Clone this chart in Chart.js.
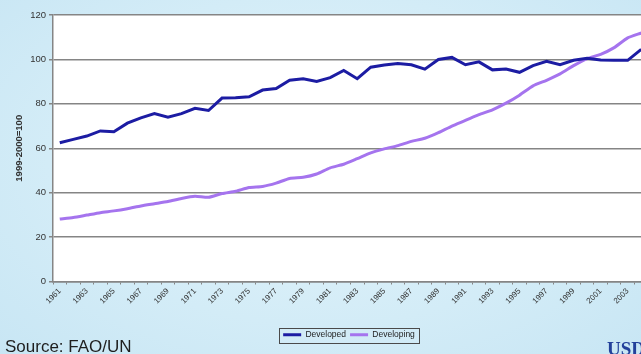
<!DOCTYPE html>
<html>
<head>
<meta charset="utf-8">
<script src="https://cdn.jsdelivr.net/npm/chart.js@4/dist/chart.umd.min.js"></script>
<style>
  html, body { margin: 0; padding: 0; }
  body {
    width: 641px; height: 354px; overflow: hidden; position: relative;
    background: radial-gradient(ellipse at 50% 45%, #e4f4fb 0%, #d3ecf7 60%, #c8e6f4 100%);
    font-family: "Liberation Sans", Arial, sans-serif;
  }
  /* the source image is cropped on the right, so the chart runs a little past the edge */
  #wrap { position: absolute; left: 0; top: 0; width: 650px; height: 354px; }
  #source { position: absolute; left: 5px; top: 337px; font-size: 17px; color: #1e1e1e; white-space: nowrap; }
  #usda { position: absolute; left: 607px; top: 338px; font-size: 19px; font-weight: bold; color: #23409a;
    font-family: "Liberation Serif", "DejaVu Serif", serif; white-space: nowrap; }
</style>
</head>
<body>
<div id="wrap"><canvas id="yieldChart"></canvas></div>
<div id="source">Source: FAO/UN</div>
<div id="usda">USDA</div>
<script>
// index 1999-2000 = 100
const years = [
  1961, 1962, 1963, 1964, 1965, 1966, 1967, 1968, 1969, 1970,
  1971, 1972, 1973, 1974, 1975, 1976, 1977, 1978, 1979, 1980,
  1981, 1982, 1983, 1984, 1985, 1986, 1987, 1988, 1989, 1990,
  1991, 1992, 1993, 1994, 1995, 1996, 1997, 1998, 1999, 2000,
  2001, 2002, 2003, 2004
]
const developed = [
  62.5, 64, 65.5, 67.8, 67.4, 71.3, 73.7, 75.6, 74, 75.6,
  78, 77, 82.6, 82.7, 83.2, 86.2, 86.9, 90.6, 91.3, 90.1,
  91.8, 95, 91.3, 96.5, 97.5, 98.2, 97.6, 95.6, 100, 100.9,
  97.6, 98.9, 95.3, 95.7, 94.2, 97.2, 99.1, 97.6, 99.6, 100.5,
  99.7, 99.6, 99.6, 104.5
]
const developing = [
  28.1, 28.8, 29.9, 31, 31.8, 32.8, 34, 35, 36, 37.4,
  38.4, 37.9, 39.6, 40.6, 42.3, 42.8, 44.3, 46.4, 46.9, 48.4,
  51.2, 52.8, 55.3, 57.9, 59.7, 61.2, 63.1, 64.5, 67, 70,
  72.5, 75.1, 77.3, 80.3, 83.9, 88.1, 90.6, 93.5, 97.2, 100.4,
  102.3, 105.3, 109.7, 111.9
]
const yTicks = [0, 20, 40, 60, 80, 100, 120]
const yTitle = '1999-2000=100'

const gridGray = '#858585'
const fontFamily = '"Liberation Sans", Arial, sans-serif'

// white plot area + legend frame + legend nudged right like the original
const plotFrame = {
  id: 'plotFrame',
  beforeDraw: chart => {
    const {ctx, chartArea} = chart
    ctx.save()
    ctx.fillStyle = '#ffffff'
    ctx.fillRect(chartArea.left, chartArea.top, chartArea.right - chartArea.left, chartArea.bottom - chartArea.top)
    ctx.restore()
  },
  afterLayout: chart => {
    chart.legend.left += 24
    chart.legend.right += 24
  },
  afterDraw: chart => {
    const boxes = chart.legend.legendHitBoxes
    if (!boxes || !boxes.length) return
    const left = Math.min(...boxes.map(b => b.left)) - 4
    const right = Math.max(...boxes.map(b => b.left + b.width)) + 4
    const top = Math.min(...boxes.map(b => b.top)) - 3
    const bottom = Math.max(...boxes.map(b => b.top + b.height)) + 3
    const ctx = chart.ctx
    ctx.save()
    ctx.strokeStyle = '#4a4a4a'
    ctx.lineWidth = 1
    ctx.strokeRect(Math.round(left) + 0.5, Math.round(top) + 0.5, Math.round(right - left), Math.round(bottom - top))
    ctx.restore()
  }
}

const config = {
  type: 'line',
  data: {
    labels: years,
    datasets: [
      {
        label: 'Developed',
        data: developed,
        borderColor: '#1c1ca3',
        backgroundColor: '#1c1ca3',
        borderWidth: 3,
        pointRadius: 0,
        tension: 0,
        fill: false,
      },
      {
        label: 'Developing',
        data: developing,
        borderColor: '#a574ee',
        backgroundColor: '#a574ee',
        borderWidth: 3,
        pointRadius: 0,
        tension: 0.2,
        fill: false,
      }
    ]
  },
  options: {
    responsive: true,
    maintainAspectRatio: false,
    animation: false,
    layout: { padding: { top: 15, left: 0, right: 0, bottom: 5 } },
    plugins: {
      legend: {
        position: 'bottom',
        labels: {
          usePointStyle: true,
          pointStyle: 'line',
          pointStyleWidth: 18,
          boxHeight: 8,
          padding: 4,
          color: '#222',
          font: { family: fontFamily, size: 8.5 },
        }
      },
      tooltip: { enabled: false },
    },
    scales: {
      x: {
        type: 'category',
        offset: true,
        afterFit: scale => { scale.height = 45 },
        border: { display: true, color: gridGray, width: 1.5 },
        grid: { offset: true, drawOnChartArea: false, drawTicks: true, tickLength: 3, color: gridGray },
        ticks: {
          autoSkip: false,
          minRotation: 45,
          maxRotation: 45,
          padding: 2,
          color: '#333',
          font: { family: fontFamily, size: 8 },
          callback: function (value) {
            const y = this.getLabelForValue(value)
            return (y - 1961) % 2 === 0 ? String(y) : ''
          }
        }
      },
      y: {
        min: 0,
        max: 120,
        afterFit: scale => { scale.width = 53 },
        afterBuildTicks: scale => { scale.ticks = yTicks.map(v => ({ value: v })) },
        border: { display: true, color: gridGray, width: 1.5 },
        grid: { color: gridGray, lineWidth: 1.5, tickLength: 4 },
        ticks: {
          padding: 3,
          color: '#333',
          font: { family: fontFamily, size: 9.5 },
        },
        title: {
          display: true,
          text: yTitle,
          color: '#333',
          padding: { top: 14, bottom: 0 },
          font: { family: fontFamily, size: 9.5, weight: 'bold' },
        }
      }
    }
  },
  plugins: [plotFrame]
}

const chartYield = new Chart(document.getElementById('yieldChart').getContext('2d'), config)
</script>
</body>
</html>
